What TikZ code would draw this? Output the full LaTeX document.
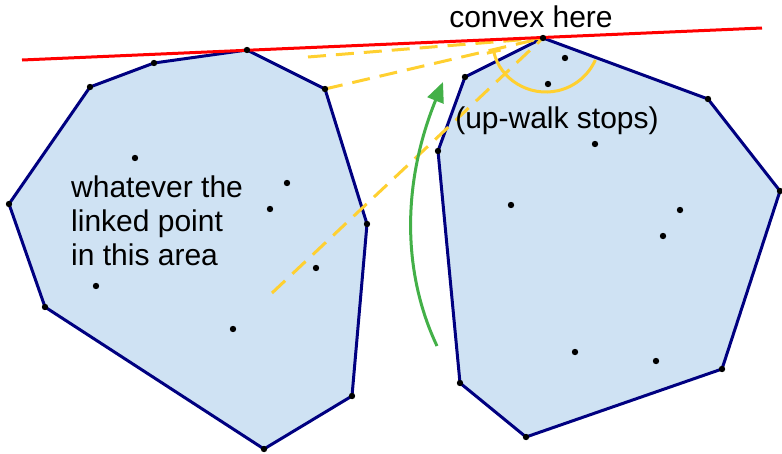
\documentclass[tikz,border=0pt]{standalone}
\usepackage{fontspec}
\setmainfont{Liberation Sans}
\usetikzlibrary{arrows.meta}
\definecolor{hullblue}{HTML}{CFE2F3}
\definecolor{hulledge}{HTML}{000080}
\definecolor{dashyellow}{RGB}{255,208,48}
\definecolor{walkgreen}{RGB}{67,176,72}

\begin{document}
\begin{tikzpicture}[x=1pt, y=-1pt, hull/.style={fill=hullblue, draw=hulledge, line width=3pt, line join=round}, guess/.style={draw=dashyellow, line width=3pt, dash pattern=on 18pt off 10pt}, lbl/.style={font=\fontsize{30}{34}\selectfont, inner sep=0pt}]
  \useasboundingbox (0,0) rectangle (782,453);
  % hull corners
  \foreach \n/\p in {a1/{247,50}, a2/{154,63}, a3/{90,87}, a4/{9,204}, a5/{45,307}, a6/{264,449}, a7/{352,396}, a8/{367,224}, a9/{325,89},
                     b1/{543,38}, b2/{465,77}, b3/{438,151}, b4/{460,383}, b5/{526,437}, b6/{722,369}, b7/{780,191}, b8/{708,99}}
    \coordinate (\n) at (\p);
  \draw[hull] (a1) -- (a2) -- (a3) -- (a4) -- (a5) -- (a6) -- (a7) -- (a8) -- (a9) -- cycle;
  \draw[hull] (b1) -- (b2) -- (b3) -- (b4) -- (b5) -- (b6) -- (b7) -- (b8) -- cycle;
  % candidate links
  \coordinate (g1) at (308,57);
  \coordinate (g3) at (272,293);
  \draw[guess] (g1) -- (b1);
  \draw[guess] (a9) -- (b1);
  \draw[guess] (g3) -- (b1);
  \draw[dashyellow, line width=3pt, {Bar[width=14pt]}-] (546,38) ++(167:54) arc[start angle=167, end angle=24, radius=54];
  % tangent
  \coordinate (tl) at (22,60);
  \coordinate (tr) at (762,28);
  \draw[red, line width=3pt] (tl) -- (tr);
  % walk
  \coordinate (w0) at (437,346);
  \coordinate (w1) at (443,82);
  \draw[walkgreen, line width=3pt, -{Triangle[width=17pt, length=20pt]}] (w0) .. controls (402,272) and (402,183) .. (w1);
  % points
  \foreach \c in {a1,a2,a3,a4,a5,a6,a7,a8,a9,b1,b2,b3,b4,b5,b6,b7,b8}
    \fill (\c) circle (3.2);
  \foreach \x/\y in {135/158, 287/183, 270/209, 96/286, 316/268, 233/329,
                     565/58, 548/84, 595/144, 511/205, 680/210, 663/236, 575/352, 656/361}
    \fill (\x,\y) circle (3.2);
  % labels
  \node[lbl, anchor=base] (conv) at (531,27) {convex here};
  \node[lbl, anchor=base] (stop) at (557,128) {(up-walk stops)};
  \node[lbl, anchor=base west, align=left] (area) at (71,265) {whatever the\\linked point\\in this area};
\end{tikzpicture}
\end{document}
